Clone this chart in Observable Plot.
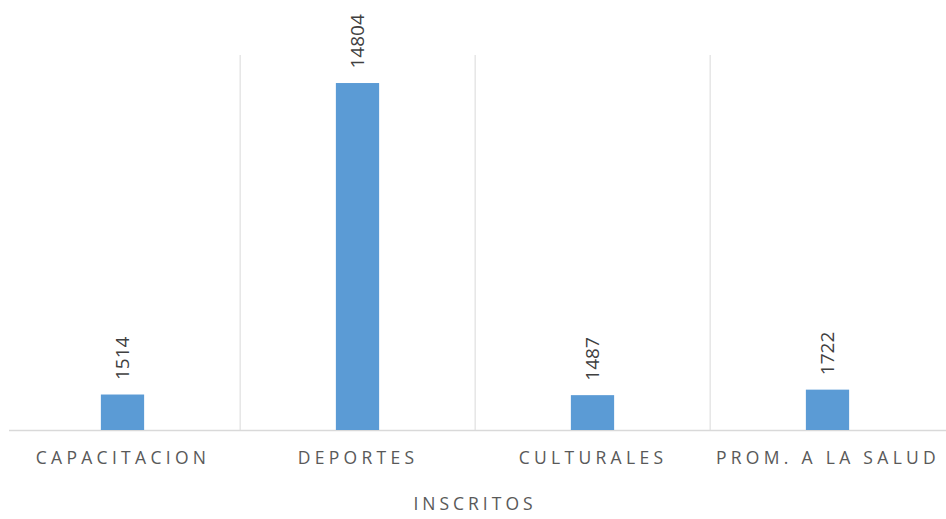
<!DOCTYPE html>
<html>
<head>
<meta charset="utf-8">
<script src="https://cdn.jsdelivr.net/npm/d3@7"></script>
<script src="https://cdn.jsdelivr.net/npm/@observablehq/plot@0.6"></script>
<style>
  html, body { margin: 0; padding: 0; background: #fff; }
  #chart svg { display: block; }
  #chart [aria-label="x-axis tick label"] text { letter-spacing: 4.3px; }
  #chart [aria-label="x-axis label"] text { letter-spacing: 4px; }
</style>
</head>
<body>
<div id="chart"></div>
<script>
const categories = ["CAPACITACION", "DEPORTES", "CULTURALES", "PROM. A LA SALUD"];
const inscritos = [1514, 14804, 1487, 1722];
const axisTitle = "INSCRITOS";

const data = categories.map((c, i) => ({category: c, value: inscritos[i]}));

const W = 946, H = 519;
const mL = 3, mR = 0;
const band = (W - mL - mR) / categories.length;
const barW = 44;

const chart = Plot.plot({
  width: W,
  height: H,
  marginTop: 55,
  marginBottom: 89,
  marginLeft: mL,
  marginRight: mR,
  style: {fontFamily: "'Open Sans', sans-serif", background: "#fff"},
  x: {domain: categories, padding: 0, label: null},
  y: {domain: [0, 16000], axis: null},
  marks: [
    Plot.ruleX(categories.slice(1), {x: d => d, dx: -band / 2, stroke: "#d9d9d9", strokeWidth: 1}),
    Plot.ruleY([0], {stroke: "#d9d9d9", strokeWidth: 1.5, insetLeft: 6}),
    Plot.barY(data, {x: "category", y: "value", fill: "#5b9bd5", insetLeft: (band - barW) / 2, insetRight: (band - barW) / 2}),
    Plot.text(data, {x: "category", y: "value", text: d => String(d.value), rotate: -90, textAnchor: "start", lineAnchor: "middle", dy: -15, fontSize: 19, fill: "#404040"}),
    Plot.axisX({tickSize: 0, tickPadding: 21, fontSize: 17.5, fill: "#595959", label: axisTitle, labelAnchor: "center", labelOffset: 79})
  ]
});
document.getElementById("chart").appendChild(chart);
</script>
</body>
</html>
